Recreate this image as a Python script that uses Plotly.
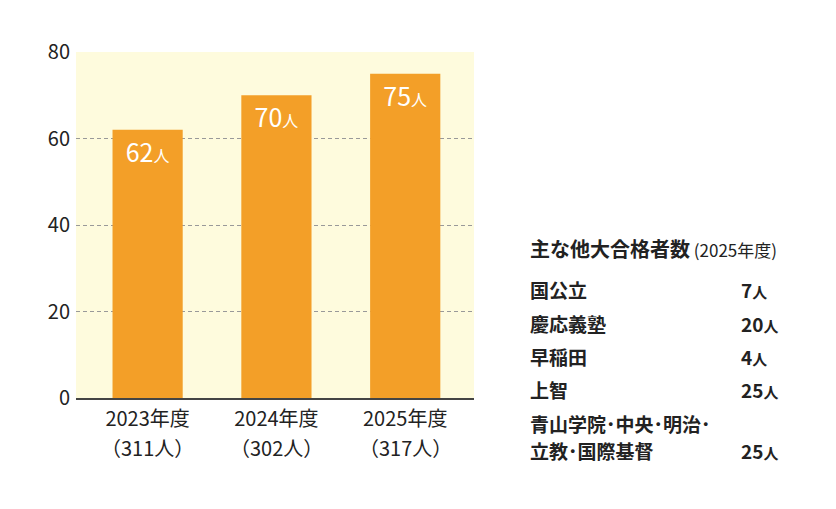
import plotly.graph_objects as go

years = ["2023年度", "2024年度", "2025年度"]
totals = ["（311人）", "（302人）", "（317人）"]
passed = [62, 70, 75]
tick_vals = [0, 20, 40, 60, 80]

other_schools = ["国公立", "慶応義塾", "早稲田", "上智", "青山学院･中央･明治･<br>立教･国際基督"]
other_counts = [7, 20, 4, 25, 25]

font_jp = "Noto Sans CJK JP"
bar_color = "#F39F28"

# plot area in screen px (page has 8px body margin)
PL, PT, PW, PH = 76, 52, 398, 346


def px_x(sx):
    return (sx - PL) / PW


def px_y(sy):
    return (PT + PH - sy) / PH


fig = go.Figure()
fig.add_trace(go.Bar(
    x=years, y=passed,
    marker=dict(color=bar_color, line=dict(width=0)),
    width=0.545,
    text=[f"{v}<span style='font-size:16px'>人</span>" for v in passed],
    textposition="inside", insidetextanchor="end",
    textfont=dict(color="white", size=25, family=font_jp),
    hoverinfo="skip",
))

fig.update_layout(
    width=836, height=509,
    margin=dict(l=PL - 8, r=836 - (PL + PW - 8), t=PT - 8, b=509 - (PT + PH - 8)),
    paper_bgcolor="white", plot_bgcolor="#FEFBDD",
    showlegend=False,
    font=dict(family=font_jp, color="#222"),
)
fig.update_yaxes(
    range=[0, 80], tickvals=tick_vals,
    showgrid=True, gridcolor="#999999", griddash="4px,3px", gridwidth=1,
    zeroline=False, showline=False,
    tickfont=dict(size=20, color="#222"), ticks="", ticklen=0,
    ticklabelstandoff=5,
)
fig.update_xaxes(
    range=[-0.556, 2.534],
    showline=True, linecolor="#444", linewidth=1.5,
    tickfont=dict(size=20, color="#222"), ticks="",
    ticklabelstandoff=2,
)

# second line of the category labels
for yr, tot in zip(years, totals):
    fig.add_annotation(
        x=yr, xref="x", yref="paper", y=px_y(447),
        text=tot, showarrow=False, yanchor="middle",
        font=dict(size=20, color="#222", family=font_jp),
    )

# right-side table
fig.add_annotation(
    xref="paper", yref="paper", x=px_x(528), y=px_y(248),
    text="<b>主な他大合格者数</b><span style='font-size:17px'> (2025年度)</span>",
    showarrow=False, xanchor="left", yanchor="middle",
    font=dict(size=20, color="#222", family=font_jp),
)
row_y = [289, 323, 356, 389, 450]
for name, cnt, yy in zip(other_schools, other_counts, row_y):
    lines = name.split("<br>")
    for k, line in enumerate(lines):
        fig.add_annotation(
            xref="paper", yref="paper", x=px_x(528),
            y=px_y(yy - 27 * (len(lines) - 1 - k)),
            text="<b>" + line + "</b>", showarrow=False,
            xanchor="left", yanchor="middle", align="left",
            font=dict(size=19, color="#222", family=font_jp),
        )
    fig.add_annotation(
        xref="paper", yref="paper", x=px_x(739), y=px_y(yy),
        text=f"<b>{cnt}<span style='font-size:15px'>人</span></b>", showarrow=False,
        xanchor="left", yanchor="middle",
        font=dict(size=19, color="#222", family=font_jp),
    )

fig.write_html("out.html")
